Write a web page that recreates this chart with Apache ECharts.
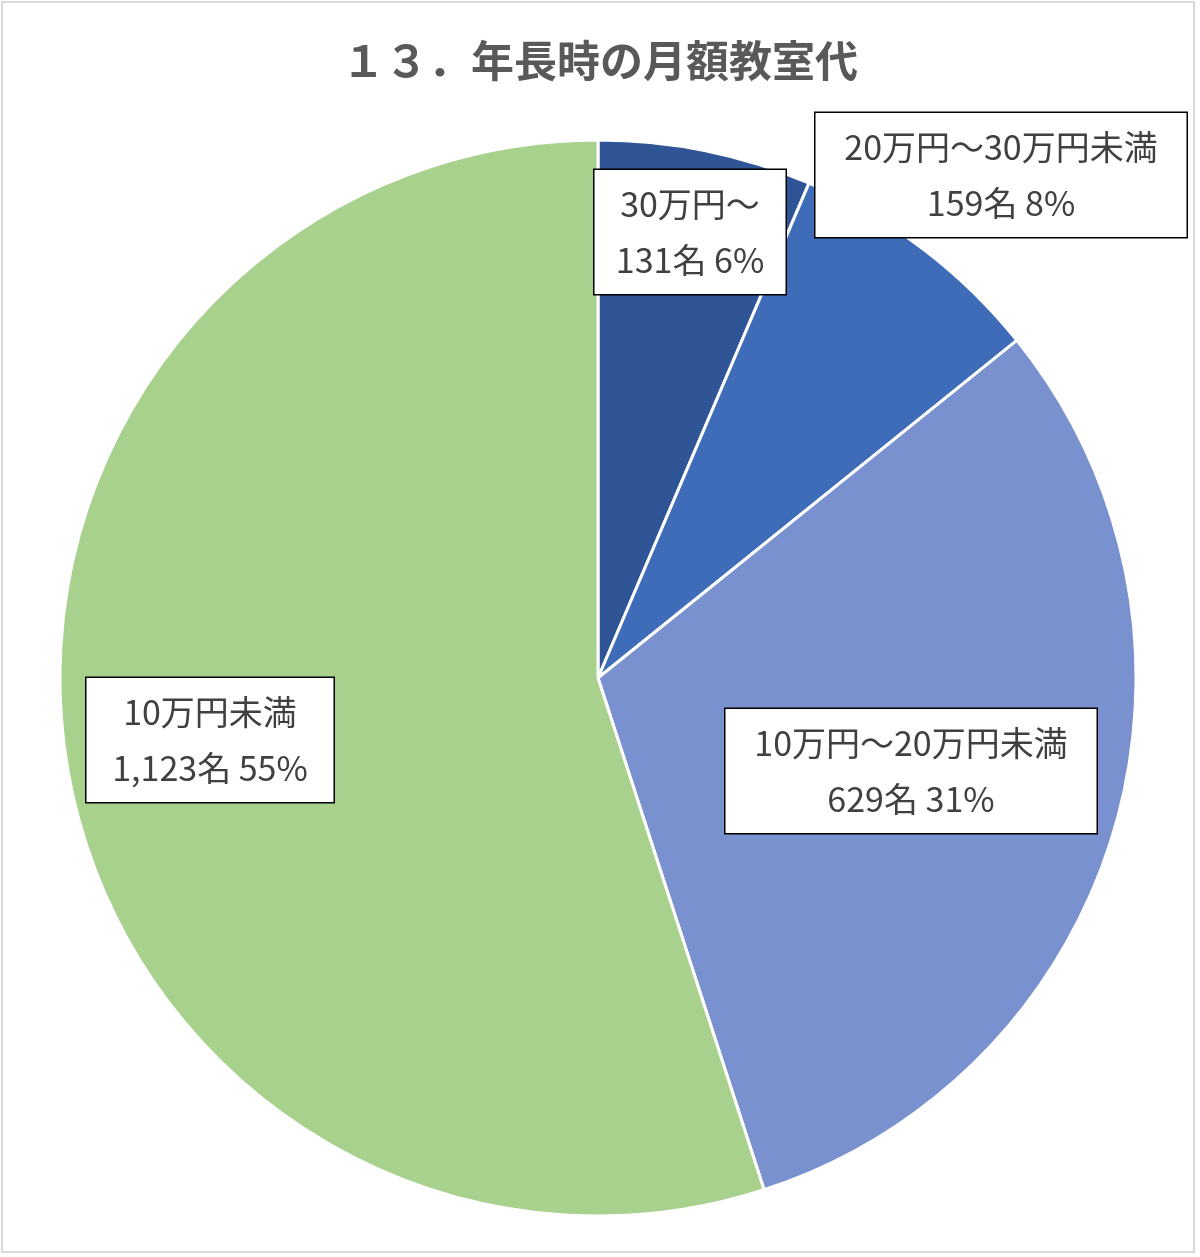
<!DOCTYPE html>
<html>
<head>
<meta charset="utf-8">
<title>年長時の月額教室代</title>
<script src="https://cdn.jsdelivr.net/npm/echarts@6/dist/echarts.min.js"></script>
<style>
  html, body { margin: 0; padding: 0; background: #fff; }
  #chart { width: 1200px; height: 1257px; }
</style>
</head>
<body>
<div id="chart"></div>
<script>
// データ（12時の位置から時計回り）
var categories = ['30万円～', '20万円～30万円未満', '10万円～20万円未満', '10万円未満'];
var counts = [131, 159, 629, 1123];
var colors = ['#2F5597', '#3E6CB9', '#7A91CF', '#A9D18E'];

// ラベル枠の中心位置と幅（px）
var labelBoxes = [
    { x: 690, y: 232, w: 191 },
    { x: 1001, y: 175, w: 371 },
    { x: 911, y: 771, w: 371 },
    { x: 210, y: 740, w: 247 }
];

function fmtNum(n) {
    return String(n).replace(/\B(?=(\d{3})+(?!\d))/g, ',');
}

var pieData = categories.map(function (name, i) {
    return {
        name: name,
        value: counts[i],
        itemStyle: { color: colors[i] },
        label: { width: labelBoxes[i].w }
    };
});

var chart = echarts.init(document.getElementById('chart'));

var option = {
    backgroundColor: '#fff',
    title: {
        text: '１３．年長時の月額教室代',
        left: 'center',
        top: 34,
        textStyle: {
            color: '#595959',
            fontSize: 43,
            fontWeight: 'bold',
            fontFamily: 'Noto Sans CJK JP'
        }
    },
    graphic: [
        {
            type: 'rect',
            shape: { x: 2, y: 2, width: 1192, height: 1250 },
            style: { fill: 'none', stroke: '#D9D9D9', lineWidth: 2 },
            silent: true
        }
    ],
    series: [
        {
            type: 'pie',
            center: [598, 678],
            radius: 538,
            startAngle: 90,
            clockwise: true,
            animation: false,
            itemStyle: {
                borderColor: '#fff',
                borderWidth: 3
            },
            label: {
                show: true,
                position: 'inside',
                color: '#404040',
                fontSize: 34,
                fontFamily: 'Noto Sans CJK JP',
                lineHeight: 56,
                align: 'center',
                backgroundColor: '#fff',
                borderColor: '#000',
                borderWidth: 1.5,
                padding: [6, 0],
                formatter: function (p) {
                    return p.name + '\n' + fmtNum(p.value) + '名 ' + Math.round(p.percent) + '%';
                }
            },
            labelLine: { show: false },
            labelLayout: function (params) {
                var b = labelBoxes[params.dataIndex];
                return {
                    x: b.x,
                    y: b.y,
                    align: 'center',
                    verticalAlign: 'middle'
                };
            },
            data: pieData
        }
    ]
};

chart.setOption(option);
</script>
</body>
</html>
